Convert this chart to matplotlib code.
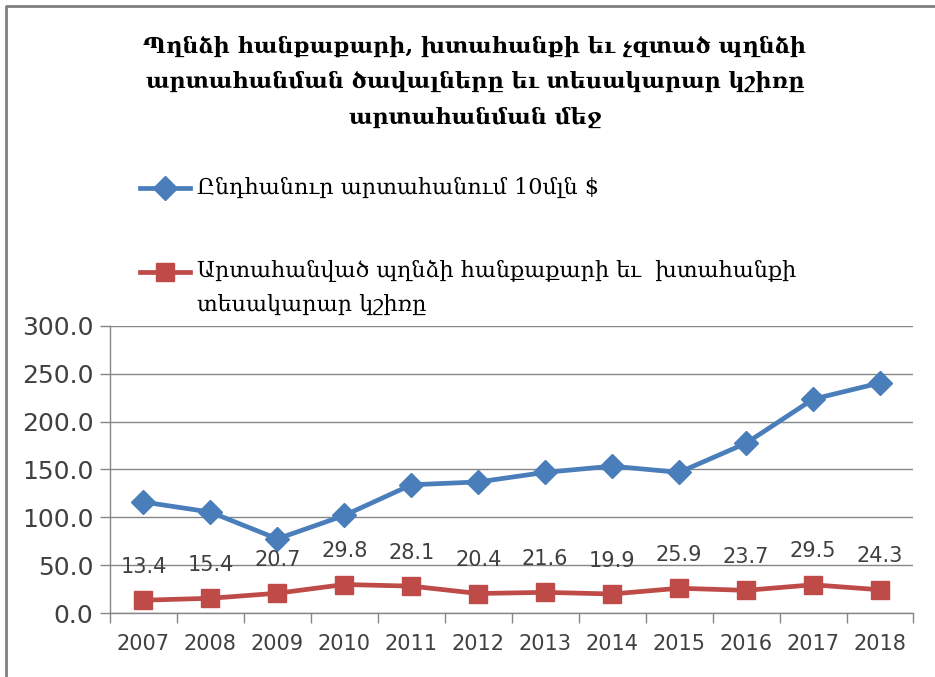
"""
Պղնձի արտահանման գծապատկեր (2007-2018)
"""

import matplotlib
matplotlib.use("Agg")
import matplotlib.pyplot as plt
from matplotlib.lines import Line2D

# Տվյալներ
YEARS = ["2007", "2008", "2009", "2010", "2011", "2012",
         "2013", "2014", "2015", "2016", "2017", "2018"]
TOTAL_EXPORT = [116.0, 105.5, 77.5, 102.0, 134.0, 137.0,
                147.0, 153.5, 147.0, 177.5, 223.5, 240.5]
COPPER_SHARE = [13.4, 15.4, 20.7, 29.8, 28.1, 20.4,
                21.6, 19.9, 25.9, 23.7, 29.5, 24.3]
Y_TICKS = [0, 50, 100, 150, 200, 250, 300]

TITLE = ("Պղնձի հանքաքարի, խտահանքի եւ չզտած պղնձի\n"
         "արտահանման ծավալները եւ տեսակարար կշիռը\n"
         "արտահանման մեջ")
LABEL_TOTAL = "Ընդհանուր արտահանում 10մլն $"
LABEL_SHARE = ("Արտահանված պղնձի հանքաքարի եւ  խտահանքի\n"
               "տեսակարար կշիռը")

BLUE = "#4a7ebb"
RED = "#be4b48"
GRID = "#868686"
TEXT = "#404040"
SERIF = ["DejaVu Serif"]


def main() -> None:
    fig = plt.figure(figsize=(9.35, 6.77), dpi=100)
    ax = fig.add_axes([0.1176, 0.0945, 0.8594, 0.424])

    x = list(range(len(YEARS)))

    ax.plot(x, TOTAL_EXPORT, color=BLUE, linewidth=3.4, marker="D",
            markersize=12, zorder=3, solid_joinstyle="round")
    ax.plot(x, COPPER_SHARE, color=RED, linewidth=3.4, marker="s",
            markersize=12.5, zorder=3)

    # թվային պիտակներ
    for xi, v in zip(x, COPPER_SHARE):
        ax.annotate(f"{v:.1f}", xy=(xi, v), xytext=(0, 24),
                    textcoords="offset points", ha="center", va="center",
                    fontsize=15, color=TEXT)

    ax.set_xlim(-0.5, len(YEARS) - 0.5)
    ax.set_ylim(0, 300)
    ax.set_yticks(Y_TICKS)
    ax.set_yticklabels([f"{t:.1f}" for t in Y_TICKS], fontsize=18, color=TEXT)
    ax.set_xticks(x)
    ax.set_xticklabels(YEARS, fontsize=15, color=TEXT)
    ax.set_xticks([i - 0.5 for i in range(len(YEARS) + 1)], minor=True)
    ax.tick_params(axis="x", which="major", length=0, pad=15)
    ax.tick_params(axis="x", which="minor", length=7, color=GRID, width=1)
    ax.tick_params(axis="y", length=7, color=GRID, width=1, pad=5)

    ax.grid(axis="y", color=GRID, linewidth=1)
    ax.set_axisbelow(True)
    for side in ("top", "right"):
        ax.spines[side].set_visible(False)
    for side in ("left", "bottom"):
        ax.spines[side].set_color(GRID)
        ax.spines[side].set_linewidth(1)

    # վերնագիր
    fig.text(0.508, 0.947, TITLE, ha="center", va="top", fontsize=16,
             fontweight="bold", family=SERIF, linespacing=1.78)

    # լեգենդ
    fig.add_artist(Line2D([0.150, 0.203], [0.722, 0.722], color=BLUE,
                          linewidth=3.4, transform=fig.transFigure))
    fig.add_artist(Line2D([0.1765], [0.722], color=BLUE, marker="D",
                          markersize=12, linestyle="none",
                          transform=fig.transFigure))
    fig.text(0.211, 0.722, LABEL_TOTAL, ha="left", va="center",
             fontsize=16, family=SERIF)

    fig.add_artist(Line2D([0.150, 0.203], [0.598, 0.598], color=RED,
                          linewidth=3.4, transform=fig.transFigure))
    fig.add_artist(Line2D([0.1765], [0.598], color=RED, marker="s",
                          markersize=12.5, linestyle="none",
                          transform=fig.transFigure))
    fig.text(0.211, 0.616, LABEL_SHARE, ha="left", va="top",
             fontsize=16, family=SERIF, linespacing=1.7)

    # շրջանակ
    fig.add_artist(Line2D([0.006, 0.006, 1.0], [0.0, 0.991, 0.991],
                          color="#808080", linewidth=2,
                          transform=fig.transFigure))

    fig.savefig("out.png", dpi=100)
    plt.close(fig)


if __name__ == "__main__":
    main()
